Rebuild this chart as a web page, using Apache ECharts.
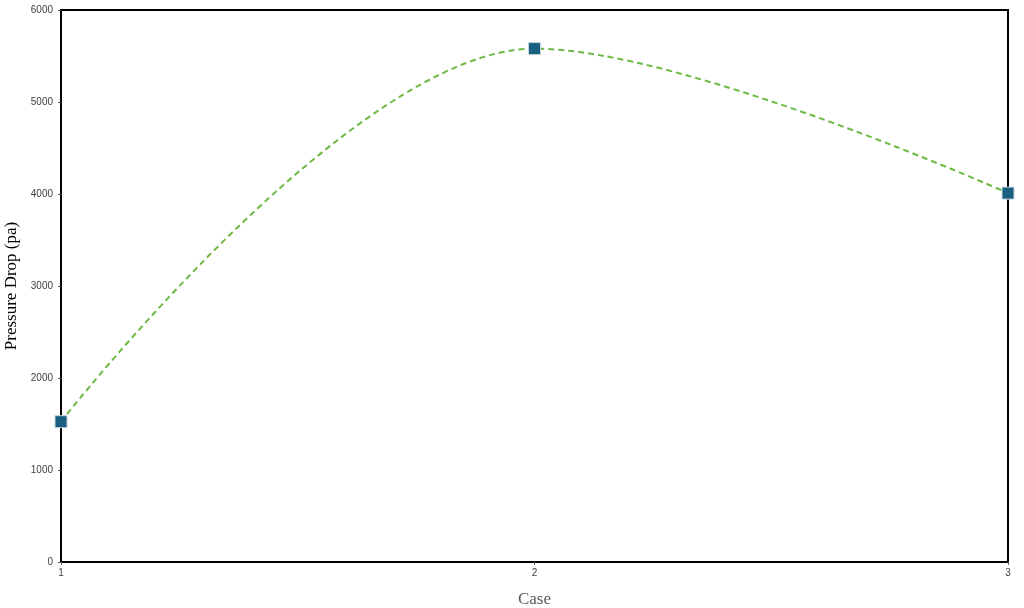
<!DOCTYPE html>
<html><head><meta charset="utf-8">
<script src="https://cdn.jsdelivr.net/npm/echarts@6/dist/echarts.min.js"></script>
<style>html,body{margin:0;padding:0;background:#fff}#c{width:1024px;height:608px}</style>
</head><body><div id="c"></div>
<script>
const cases = [1, 2, 3];
const pressureDrop = [1525, 5580, 4010];
const yTicks = [0, 1000, 2000, 3000, 4000, 5000, 6000];

const chart = echarts.init(document.getElementById('c'));
chart.setOption({
  animation: false,
  grid: { left: 61, right: 16, top: 10, bottom: 46, show: true, borderColor: '#000', borderWidth: 2,
          containLabel: false, outerBoundsMode: 'none' },
  xAxis: {
    type: 'value', min: 1, max: 3, interval: 1,
    name: 'Case', nameLocation: 'middle', nameGap: 29,
    nameTextStyle: { fontFamily: 'Liberation Serif', fontSize: 17, color: '#595959' },
    axisLine: { lineStyle: { color: '#000', width: 2 } },
    axisTick: { show: true, length: 3, lineStyle: { color: '#595959' } },
    axisLabel: { fontFamily: 'Liberation Sans', fontSize: 10, color: '#404040', margin: 6,
                 formatter: v => String(v) },
    splitLine: { show: false }
  },
  yAxis: {
    type: 'value', min: yTicks[0], max: yTicks[yTicks.length - 1], interval: 1000,
    name: 'Pressure Drop (pa)', nameLocation: 'middle', nameGap: 35,
    nameTextStyle: { fontFamily: 'Liberation Serif', fontSize: 17, color: '#000' },
    axisLine: { show: true, lineStyle: { color: '#000', width: 2 } },
    axisTick: { show: true, length: 3, lineStyle: { color: '#595959' } },
    axisLabel: { fontFamily: 'Liberation Sans', fontSize: 10, color: '#404040', margin: 8,
                 formatter: v => String(v) },
    splitLine: { show: false }
  },
  series: [{
    type: 'line',
    data: cases.map((c, i) => [c, pressureDrop[i]]),
    smooth: 0.35,
    symbol: 'rect', symbolSize: 12,
    itemStyle: { color: '#185f80', borderColor: '#c8d4dc', borderWidth: 1 },
    lineStyle: { color: '#6cb944', width: 2, type: [6, 4] }
  }]
});
</script></body></html>
